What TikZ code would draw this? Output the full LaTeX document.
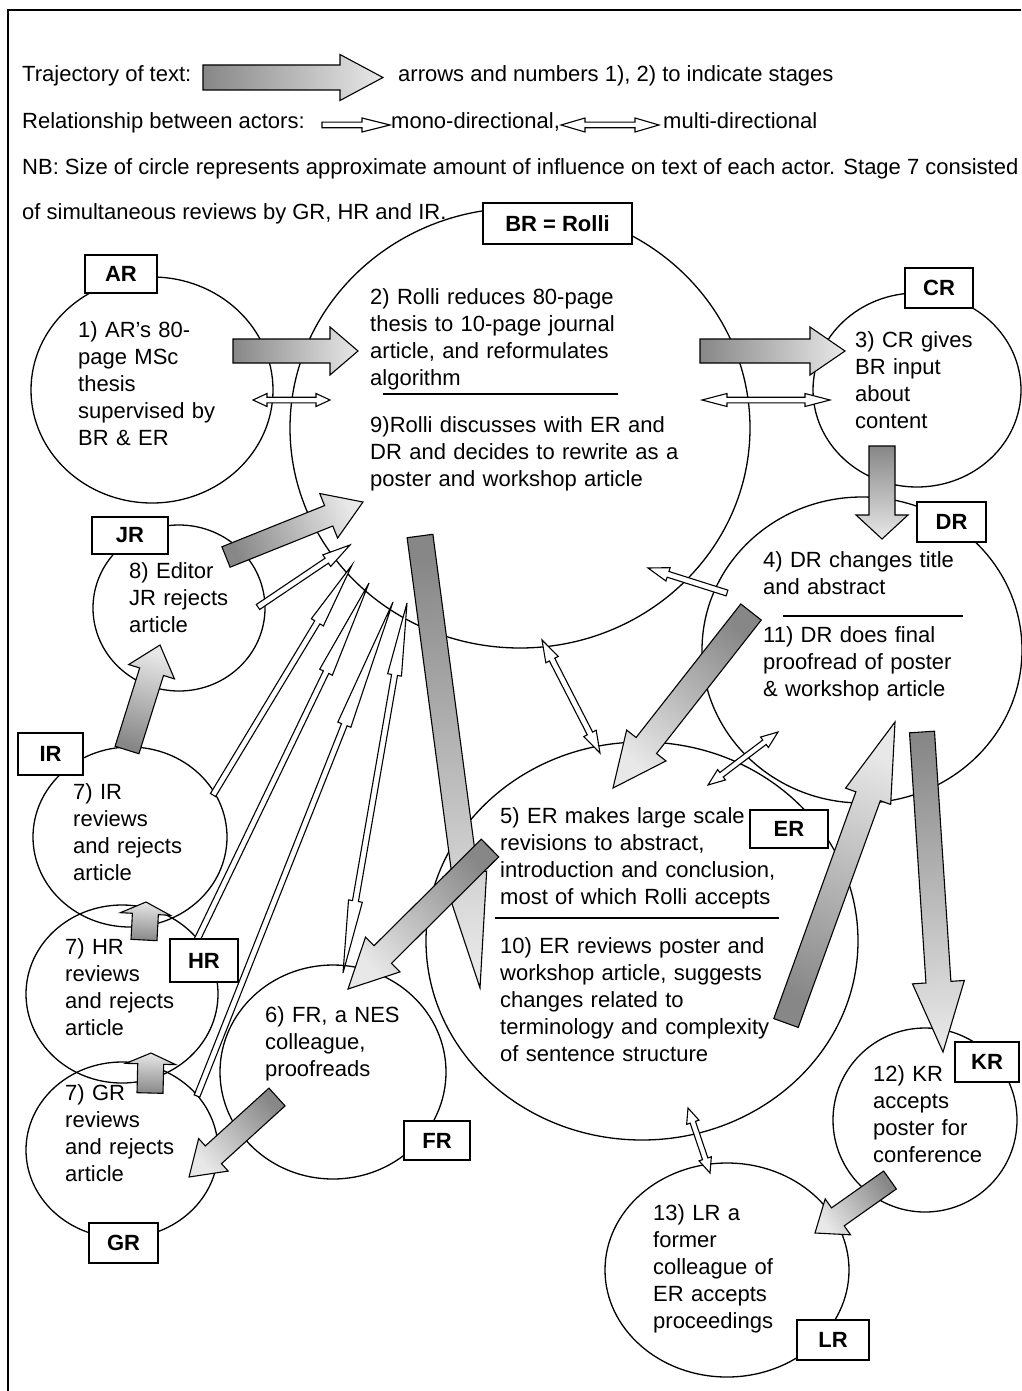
\documentclass[tikz,border=0pt]{standalone}
\usepackage{fontspec}
\setmainfont{Liberation Sans}
\usetikzlibrary{calc,shapes.geometric}
\definecolor{arrdark}{RGB}{135,135,135}
\definecolor{arrlight}{RGB}{232,232,232}
\tikzset{
  circ/.style={ellipse, draw, line width=1.3pt, inner sep=0},
  lab/.style={draw, fill=white, line width=1.4pt, inner sep=0, font=\bfseries\fontsize{22}{27}\selectfont},
  txt/.style={anchor=base west, inner sep=0, text width=420pt, align=left, font=\fontsize{22}{27}\selectfont},
  hdr/.style={anchor=base west, inner sep=0, font=\fontsize{22}{27}\selectfont},
  bigarrow/.style={draw=black, line width=1.1pt, line join=miter, top color=arrlight, bottom color=arrdark},
  hollow/.style={draw=black, fill=white, line width=1.1pt, line join=miter},
  divider/.style={line width=1.3pt}
}
% block arrow with gradient: tail, tip, shaft half width, head half width, head length
\newcommand\bigarr[5]{%
  \path ($(#2)!#5pt!(#1)$) coordinate (hbX);
  \path let \p1=($(#2)-(#1)$) in \pgfextra{\pgfmathsetmacro\tmpang{atan2(\y1,\x1)-90}\global\let\arrangG\tmpang};
  \path[bigarrow, shading angle=\arrangG]
    ($(#1)!#3pt!90:(#2)$) -- ($(hbX)!#3pt!90:(#2)$) -- ($(hbX)!#4pt!90:(#2)$) -- (#2)
    -- ($(hbX)!#4pt!-90:(#2)$) -- ($(hbX)!#3pt!-90:(#2)$) -- ($(#1)!#3pt!-90:(#2)$) -- cycle;
}
% hollow mono-directional arrow
\newcommand\monoarr[5]{%
  \path ($(#2)!#5pt!(#1)$) coordinate (hbX);
  \path[hollow]
    ($(#1)!#3pt!90:(#2)$) -- ($(hbX)!#3pt!90:(#2)$) -- ($(hbX)!#4pt!90:(#2)$) -- (#2)
    -- ($(hbX)!#4pt!-90:(#2)$) -- ($(hbX)!#3pt!-90:(#2)$) -- ($(#1)!#3pt!-90:(#2)$) -- cycle;
}
% hollow multi-directional arrow
\newcommand\dblarr[5]{%
  \path ($(#2)!#5pt!(#1)$) coordinate (hbX) ($(#1)!#5pt!(#2)$) coordinate (haX);
  \path[hollow]
    (#1) -- ($(haX)!#4pt!90:(#2)$) -- ($(haX)!#3pt!90:(#2)$) -- ($(hbX)!#3pt!90:(#2)$)
    -- ($(hbX)!#4pt!90:(#2)$) -- (#2) -- ($(hbX)!#4pt!-90:(#2)$) -- ($(hbX)!#3pt!-90:(#2)$)
    -- ($(haX)!#3pt!-90:(#2)$) -- ($(haX)!#4pt!-90:(#2)$) -- cycle;
}
\begin{document}
\begin{tikzpicture}[x=1pt,y=-1pt]
\useasboundingbox[fill=white] (0,0) rectangle (1021,1391);
% frame
\draw[line width=1.6pt] (8,1391) -- (8,10) -- (1021,10);

% ---------- legend ----------
\node[hdr] (lg1) at (22,82) {Trajectory of text:};
\node[hdr] (lg2) at (398,82) {arrows and numbers 1), 2) to indicate stages};
\node[hdr] (lg3) at (22,129) {Relationship between actors:};
\node[hdr] (lg4) at (391,129) {mono-directional,};
\node[hdr] (lg5) at (663,129) {multi-directional};
\node[hdr] (lg6) at (22,175) {NB: Size of circle represents approximate amount of influence on text of each actor. Stage 7 consisted};
\node[hdr] (lg7) at (22,219) {of simultaneous reviews by GR, HR and IR.};
\coordinate (lgA) at (203,77.5); \coordinate (lgB) at (383,77.5);
\coordinate (lgmA) at (322,125); \coordinate (lgmB) at (390,125);
\coordinate (lgdA) at (561,125); \coordinate (lgdB) at (659,125);

% ---------- circles ----------
\node[circ, minimum width=460pt, minimum height=440pt] (BR) at (520,428) {};
\node[circ, minimum width=242pt, minimum height=226pt] (AR) at (152,390) {};
\node[circ, minimum width=208pt, minimum height=194pt] (CR) at (917,390) {};
\node[circ, minimum width=320pt, minimum height=306pt] (DR) at (862,650) {};
\node[circ, minimum width=172pt, minimum height=166pt] (JR) at (179,608) {};
\node[circ, minimum width=194pt, minimum height=180pt] (IR) at (130,837) {};
\node[circ, minimum width=192pt, minimum height=178pt] (HR) at (122,994) {};
\node[circ, minimum width=192pt, minimum height=176pt] (GR) at (122,1150) {};
\node[circ, minimum width=226pt, minimum height=214pt] (FR) at (333,1072) {};
\node[circ, minimum width=432pt, minimum height=398pt] (ER) at (642,941) {};
\node[circ, minimum width=184pt, minimum height=184pt] (KR) at (925,1120) {};
\node[circ, minimum width=244pt, minimum height=214pt] (LR) at (727,1270) {};

% ---------- texts ----------
\node[txt] (tAR) at (78,337) {1) AR’s 80-\\page MSc\\thesis\\supervised by\\BR \& ER};
\node[txt] (tBR1) at (370,304) {2) Rolli reduces 80-page\\thesis to 10-page journal\\article, and reformulates\\algorithm};
\node[txt] (tBR2) at (370,432) {9)Rolli discusses with ER and\\DR and decides to rewrite as a\\poster and workshop article};
\node[txt] (tCR) at (855,347) {3) CR gives\\BR input\\about\\content};
\node[txt] (tDR1) at (763,567) {4) DR changes title\\and abstract};
\node[txt] (tDR2) at (763,642) {11) DR does final\\proofread of poster\\\& workshop article};
\node[txt] (tJR) at (129,578) {8) Editor\\JR rejects\\article};
\node[txt] (tIR) at (73,799) {7) IR\\reviews\\and rejects\\article};
\node[txt] (tHR) at (65,954) {7) HR\\reviews\\and rejects\\article};
\node[txt] (tGR) at (65,1100) {7) GR\\reviews\\and rejects\\article};
\node[txt] (tFR) at (265,1022) {6) FR, a NES\\colleague,\\proofreads};
\node[txt] (tER1) at (500,823) {5) ER makes large scale\\revisions to abstract,\\introduction and conclusion,\\most of which Rolli accepts};
\node[txt] (tER2) at (500,953) {10) ER reviews poster and\\workshop article, suggests\\changes related to\\terminology and complexity\\of sentence structure};
\node[txt] (tKR) at (873,1081) {12) KR\\accepts\\poster for\\conference};
\node[txt] (tLR) at (653,1220) {13) LR a\\former\\colleague of\\ER accepts\\proceedings};

\draw[divider] (383,394) -- (618,394);
\draw[divider] (783,616) -- (963,616);
\draw[divider] (495,918) -- (779,918);

% ---------- relationship arrows (hollow) ----------
\coordinate (rAB1) at (253,400); \coordinate (rAB2) at (330,400);
\coordinate (rBC1) at (702,400); \coordinate (rBC2) at (830,400);
\coordinate (rDB1) at (727,593); \coordinate (rDB2) at (648,568);
\coordinate (rBE1) at (542,640); \coordinate (rBE2) at (600,753);
\coordinate (rED1) at (708,785); \coordinate (rED2) at (778,732);
\coordinate (rEL1) at (688,1108); \coordinate (rEL2) at (710,1173);
\coordinate (rJB1) at (258,607); \coordinate (rJB2) at (350,545);
\coordinate (rIB1) at (213,795); \coordinate (rIB2) at (352,565);
\coordinate (rHB1) at (197,940); \coordinate (rHB2) at (369,583);
\coordinate (rGB1) at (197,1096); \coordinate (rGB2) at (393,602);
\coordinate (rBF1) at (407,603); \coordinate (rBF2) at (343,973);

\monoarr{lgmA}{lgmB}{2.8}{7}{28}
\dblarr{lgdA}{lgdB}{2.8}{7}{24}
\dblarr{rAB1}{rAB2}{2.8}{6.5}{14}
\dblarr{rBC1}{rBC2}{2.8}{6.5}{25}
\monoarr{rDB1}{rDB2}{3}{7}{21}
\dblarr{rBE1}{rBE2}{3}{7}{22}
\dblarr{rED1}{rED2}{2.8}{6.5}{17}
\dblarr{rEL1}{rEL2}{2.8}{6.5}{15}
\monoarr{rJB1}{rJB2}{3}{7}{28}
\monoarr{rIB1}{rIB2}{3}{7}{67}
\monoarr{rHB1}{rHB2}{3}{7}{99}
\monoarr{rGB1}{rGB2}{3}{7}{132}
\dblarr{rBF1}{rBF2}{3}{7}{73}

% ---------- trajectory arrows (shaded) ----------
\coordinate (tAB) at (233,351); \coordinate (hAB) at (358,351);
\coordinate (tBC) at (700,351); \coordinate (hBC) at (845,351);
\coordinate (tCD) at (882,446); \coordinate (hCD) at (882,539);
\coordinate (tDE) at (751,612); \coordinate (hDE) at (613,788);
\coordinate (tBE) at (420,536); \coordinate (hBE) at (480,988);
\coordinate (tEF) at (490,848); \coordinate (hEF) at (348,989);
\coordinate (tFG) at (277,1097); \coordinate (hFG) at (189,1177);
\coordinate (tGH) at (150,1093); \coordinate (hGH) at (151,1053);
\coordinate (tHI) at (144,940); \coordinate (hHI) at (146,902);
\coordinate (tIJ) at (127,750); \coordinate (hIJ) at (160,645);
\coordinate (tJB) at (226,557); \coordinate (hJB) at (363,502);
\coordinate (tED) at (786,1023); \coordinate (hED) at (895,722);
\coordinate (tDK) at (922,732); \coordinate (hDK) at (943,1052);
\coordinate (tKL) at (890,1180); \coordinate (hKL) at (815,1233);

\bigarr{lgA}{lgB}{12.5}{23}{43}
\bigarr{tAB}{hAB}{12}{24}{28}
\bigarr{tBC}{hBC}{12}{24}{35}
\bigarr{tCD}{hCD}{13}{26}{24}
\bigarr{tDE}{hDE}{13}{25}{54}
\bigarr{tBE}{hBE}{13}{22}{115}
\bigarr{tEF}{hEF}{12.4}{24.5}{49}
\bigarr{tFG}{hFG}{12}{22}{33}
\bigarr{tGH}{hGH}{13}{25}{11}
\bigarr{tHI}{hHI}{13}{25}{12}
\bigarr{tIJ}{hIJ}{12.5}{24}{28}
\bigarr{tJB}{hJB}{11}{24}{37}
\bigarr{tED}{hED}{13}{24}{79}
\bigarr{tDK}{hDK}{12.5}{26}{70}
\bigarr{tKL}{hKL}{11}{22}{28}

% ---------- labels ----------
\node[lab, minimum width=149pt, minimum height=41pt] (lBR) at (557.5,223.5) {BR = Rolli};
\node[lab, minimum width=72pt, minimum height=38pt] (lAR) at (121,274) {AR};
\node[lab, minimum width=68pt, minimum height=40pt] (lCR) at (939,288) {CR};
\node[lab, minimum width=69pt, minimum height=40pt] (lDR) at (951.5,522) {DR};
\node[lab, minimum width=76pt, minimum height=37pt] (lJR) at (130,535.5) {JR};
\node[lab, minimum width=65pt, minimum height=42pt] (lIR) at (50.5,754) {IR};
\node[lab, minimum width=68pt, minimum height=43pt] (lHR) at (204,960.5) {HR};
\node[lab, minimum width=66pt, minimum height=39pt] (lFR) at (437,1140.5) {FR};
\node[lab, minimum width=69pt, minimum height=40pt] (lGR) at (123.5,1243) {GR};
\node[lab, minimum width=78pt, minimum height=38pt] (lER) at (789,829) {ER};
\node[lab, minimum width=64pt, minimum height=40pt] (lKR) at (987,1062) {KR};
\node[lab, minimum width=72pt, minimum height=40pt] (lLR) at (833,1340) {LR};
\end{tikzpicture}
\end{document}
